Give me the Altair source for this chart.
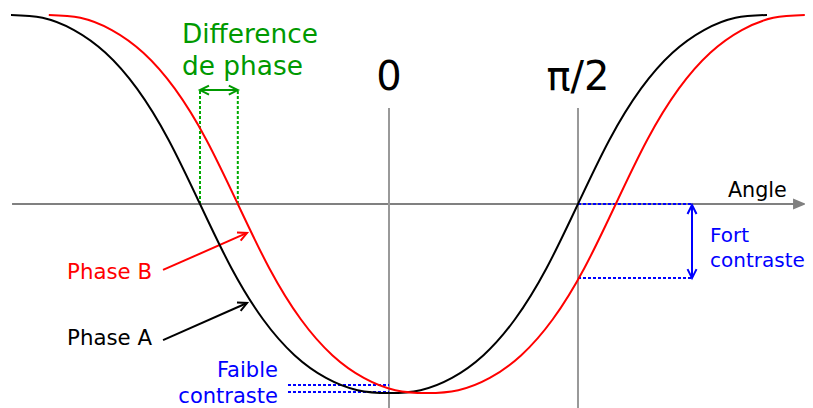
import altair as alt
import pandas as pd

# ---- curve data (angle in degrees, normalised amplitude)
phase_a_angle = [-180, -165, -150, -135, -120, -105, -90, -75, -60, -45, -30, -15, 0,
                 15, 30, 45, 60, 75, 90, 105, 120, 135, 150, 165, 180]
phase_a_value = [1.0, 0.985, 0.92, 0.80, 0.61, 0.34, 0.0, -0.34, -0.61, -0.80, -0.92, -0.985, -1.0,
                 -0.985, -0.92, -0.80, -0.61, -0.34, 0.0, 0.34, 0.61, 0.80, 0.92, 0.985, 1.0]
phase_b_angle = [-162, -147, -132, -117, -102, -87, -72, -57, -42, -27, -12, 3, 18,
                 33, 48, 63, 78, 93, 108, 123, 138, 153, 168, 183, 198]
phase_b_value = [1.0, 0.985, 0.92, 0.80, 0.61, 0.34, 0.0, -0.34, -0.61, -0.80, -0.92, -0.985, -1.0,
                 -0.985, -0.92, -0.80, -0.61, -0.34, 0.0, 0.34, 0.61, 0.80, 0.92, 0.985, 1.0]

# ---- annotation geometry (same data units)
tick_labels = ["0", "π/2"]
tick_angles = [0, 90]
phase_diff = [-90, -72]          # zero crossings of A and B
diff_level = 0.603
strong_x = 144.3
strong_low = -0.392               # value of B at π/2
weak_levels = [-0.958, -0.995]    # values of B and A at 0
weak_x0 = -48.1

xs = alt.Scale(domain=[-181.43, 198.10], nice=False, zero=False)
ys = alt.Scale(domain=[-1.0794, 1.0370], nice=False, zero=False)
FONT = "DejaVu Sans"


def X(f="x"):
    return alt.X(f"{f}:Q", scale=xs, axis=None)


def Y(f="y"):
    return alt.Y(f"{f}:Q", scale=ys, axis=None)


curves = pd.DataFrame(
    {"x": phase_a_angle + phase_b_angle,
     "y": phase_a_value + phase_b_value,
     "s": ["A"] * len(phase_a_angle) + ["B"] * len(phase_b_angle)}
)
curve_layer = alt.Chart(curves).mark_line(strokeWidth=2, interpolate="natural", clip=False).encode(
    x=X(), y=Y(), detail="s:N",
    color=alt.Color("s:N", scale=alt.Scale(domain=["A", "B"], range=["#000000", "#ff0000"]), legend=None),
)


def segs(rows, color, width, dash=None):
    df = pd.DataFrame(rows, columns=["x", "y", "x2", "y2"])
    kw = dict(color=color, strokeWidth=width, clip=False)
    if dash:
        kw["strokeDash"] = dash
    return alt.Chart(df).mark_rule(**kw).encode(x=X(), y=Y(), x2="x2:Q", y2="y2:Q")


axis_layer = segs([[-179.5, 0, 193, 0]], "#808080", 2)
vlines = segs([[a, 0.508, a, -1.08] for a in tick_angles], "#999999", 2)
green_dots = segs([[a, 0, a, diff_level] for a in phase_diff], "#00aa00", 2, [3, 2])
green_arrow = segs([[phase_diff[0], diff_level, phase_diff[1], diff_level]], "#009900", 2)
blue_dots = segs([[90, 0, strong_x, 0], [90, strong_low, strong_x, strong_low]]
                 + [[weak_x0, v, 0, v] for v in weak_levels], "#0000ff", 2, [3, 2])
blue_arrow = segs([[strong_x, -0.005, strong_x, strong_low]], "#0000ff", 2)
red_pointer = segs([[-107.6, -0.349, -67.6, -0.153]], "#ff0000", 2)
black_pointer = segs([[-107.6, -0.720, -67.6, -0.524]], "#000000", 2)

heads = pd.DataFrame({
    "x": [phase_diff[0], phase_diff[1], strong_x, strong_x, -67.6, -67.6],
    "y": [diff_level, diff_level, -0.005, strong_low, -0.153, -0.524],
    "a": [180, 0, 270, 90, 336, 336],
    "c": ["#009900", "#009900", "#0000ff", "#0000ff", "#ff0000", "#000000"],
})
head_layer = alt.Chart(heads).mark_point(
    shape="M-1,-0.5L0,0L-1,0.5", size=324, filled=False, strokeWidth=2, opacity=1, clip=False
).encode(x=X(), y=Y(), angle=alt.Angle("a:Q", scale=None), color=alt.Color("c:N", scale=None))

arrow_tip = alt.Chart(pd.DataFrame({"x": [195.5], "y": [0]})).mark_point(
    shape="M-1,-0.85L1,0L-1,0.85Z", size=169, filled=True, color="#808080", opacity=1, clip=False
).encode(x=X(), y=Y())


def texts(rows, align):
    df = pd.DataFrame(rows, columns=["x", "y", "t", "c", "s"])
    return alt.Chart(df).mark_text(align=align, baseline="alphabetic", font=FONT, clip=False).encode(
        x=X(), y=Y(), text="t:N",
        color=alt.Color("c:N", scale=None),
        size=alt.Size("s:Q", scale=None),
    )


left_texts = texts([
    [-153.3, -0.397, "Phase B", "#ff0000", 21.3],
    [-153.3, -0.746, "Phase A", "#000000", 21.3],
    [-98.6, 0.852, "Difference", "#009900", 26.4],
    [-98.6, 0.683, "de phase", "#009900", 26.4],
    [161.4, 0.037, "Angle", "#000000", 20.7],
    [152.9, -0.201, "Fort", "#0000ff", 20],
    [152.9, -0.333, "contraste", "#0000ff", 20],
], "left")
center_texts = texts([[a, 0.603, t, "#000000", 40] for a, t in zip(tick_angles, tick_labels)], "center")
right_texts = texts([
    [-52.9, -0.915, "Faible", "#0000ff", 21],
    [-52.9, -1.053, "contraste", "#0000ff", 21],
], "right")

chart = alt.layer(
    axis_layer, arrow_tip, vlines, green_dots, blue_dots, green_arrow, blue_arrow,
    red_pointer, black_pointer, head_layer, curve_layer,
    left_texts, center_texts, right_texts,
).properties(
    width=797, height=400, padding=0, autosize=alt.AutoSizeParams(type="none"),
    background="#ffffff",
).configure_view(stroke=None)

chart.save("out.html", embed_options={"renderer": "svg", "actions": False})
